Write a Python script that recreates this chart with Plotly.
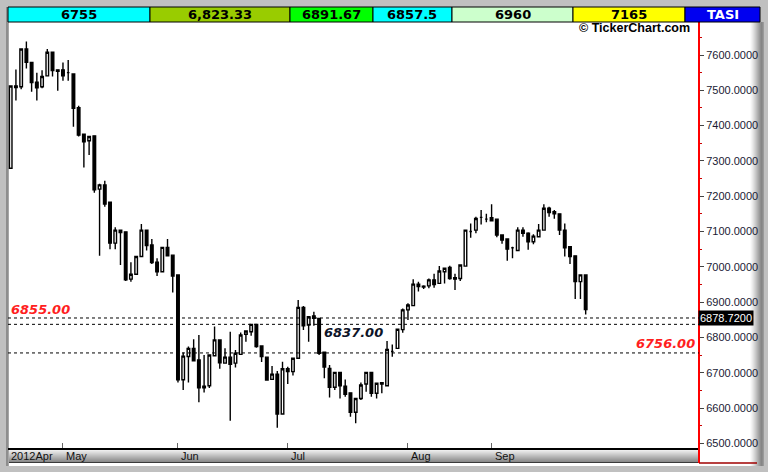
import plotly.graph_objects as go

# ---------------- data ----------------
opens = [7279, 7512, 7510, 7617, 7579, 7523, 7510, 7541, 7608, 7558,
         7558, 7550, 7546, 7451, 7376, 7357, 7371, 7220, 7232, 7183,
         7067, 7104, 7099, 6965, 6979, 7029, 7104, 7062, 7013, 6986,
         7055, 7033, 6977, 6680, 6746, 6769, 6736, 6662, 6663, 6748,
         6793, 6727, 6744, 6727, 6752, 6809, 6816, 6837, 6776, 6744,
         6681, 6696, 6583, 6711, 6703, 6741, 6885, 6835, 6861, 6854,
         6758, 6712, 6659, 6701, 6662, 6643, 6588, 6627, 6668, 6701,
         6642, 6672, 6663, 6760, 6769, 6822, 6878, 6890, 6951, 6945,
         6946, 6963, 6953, 6986, 6998, 6969, 6967, 7002, 7100, 7104,
         7140, 7135, 7139, 7135, 7090, 7079, 7054, 7046, 7104, 7095,
         7071, 7085, 7104, 7166, 7156, 7150, 7104, 7057, 7031, 6958,
         6977]
highs = [7512, 7559, 7619, 7638, 7580, 7550, 7557, 7617, 7609, 7558,
         7579, 7586, 7547, 7456, 7377, 7369, 7372, 7235, 7244, 7184,
         7112, 7105, 7100, 7013, 7030, 7121, 7105, 7079, 7024, 7056,
         7079, 7034, 6978, 6757, 6774, 6795, 6807, 6750, 6751, 6831,
         6794, 6769, 6816, 6764, 6814, 6819, 6838, 6838, 6777, 6745,
         6719, 6705, 6731, 6717, 6742, 6906, 6889, 6860, 6873, 6855,
         6759, 6722, 6702, 6702, 6681, 6644, 6628, 6672, 6702, 6702,
         6671, 6674, 6790, 6780, 6824, 6882, 6897, 6965, 6958, 6948,
         6967, 6980, 7002, 6997, 7003, 6980, 7006, 7105, 7123, 7142,
         7161, 7150, 7177, 7136, 7091, 7080, 7057, 7112, 7112, 7098,
         7092, 7121, 7177, 7170, 7161, 7151, 7123, 7058, 7032, 6978,
         6978]
lows = [7279, 7471, 7503, 7562, 7496, 7471, 7506, 7539, 7539, 7499,
        7527, 7527, 7397, 7369, 7281, 7317, 7210, 7031, 7170, 7050,
        7050, 7005, 6960, 6958, 6978, 7028, 7046, 7008, 6974, 6985,
        7030, 6927, 6672, 6651, 6672, 6733, 6616, 6644, 6657, 6747,
        6711, 6726, 6564, 6715, 6751, 6788, 6805, 6771, 6730, 6677,
        6680, 6544, 6582, 6668, 6692, 6740, 6821, 6788, 6833, 6750,
        6684, 6630, 6651, 6627, 6632, 6575, 6557, 6623, 6646, 6632,
        6627, 6642, 6662, 6745, 6768, 6813, 6849, 6889, 6930, 6937,
        6939, 6941, 6952, 6953, 6963, 6934, 6960, 7001, 7082, 7095,
        7120, 7126, 7129, 7084, 7065, 7017, 7024, 7045, 7085, 7048,
        7064, 7084, 7103, 7142, 7136, 7090, 7029, 7008, 6909, 6909,
        6865]
closes = [7512, 7508, 7617, 7579, 7522, 7507, 7539, 7608, 7556, 7554,
          7541, 7550, 7449, 7373, 7354, 7369, 7218, 7232, 7178, 7067,
          7104, 7097, 6963, 6979, 7029, 7104, 7060, 7012, 6986, 7055,
          7031, 6974, 6680, 6747, 6769, 6734, 6657, 6657, 6750, 6793,
          6728, 6744, 6724, 6755, 6807, 6818, 6837, 6774, 6746, 6679,
          6696, 6583, 6711, 6703, 6741, 6885, 6833, 6859, 6854, 6755,
          6716, 6659, 6701, 6663, 6639, 6588, 6627, 6665, 6701, 6642,
          6670, 6668, 6766, 6760, 6823, 6878, 6892, 6951, 6944, 6943,
          6963, 6950, 6988, 6996, 6967, 6965, 7005, 7104, 7100, 7137,
          7140, 7135, 7130, 7090, 7076, 7050, 7054, 7104, 7095, 7071,
          7087, 7104, 7166, 7154, 7150, 7104, 7054, 7029, 6958, 6977,
          6878.72]
days = list(range(len(opens)))

month_labels = ["2012Apr", "May", "Jun", "Jul", "Aug", "Sep"]
month_pos = [0, 10, 32, 53, 76, 92]

y_ticks = [6500, 6600, 6700, 6800, 6900, 7000, 7100, 7200, 7300, 7400, 7500, 7600]
level_values = [6855, 6837, 6756]
level_labels = ["6855.00", "6837.00", "6756.00"]

header_values = ["6755", "6,823.33", "6891.67", "6857.5", "6960", "7165", "TASI"]
header_colors = ["#00FFFF", "#99CC00", "#00FF00", "#00FFFF", "#CCFFCC", "#FFFF00", "#0000F0"]
header_edges = [8, 150, 290, 373, 452, 573, 685, 760]

last_price = 6878.72
symbol = "TASI"

# ---------------- layout helpers (pixel -> paper) ----------------
L, R, T, B = 8, 699, 22, 448
W, H = R - L, B - T


def px(x):
    return (x - L) / W


def py(y):
    return (B - y) / H


fig = go.Figure()
fig.add_trace(go.Candlestick(
    x=days, open=opens, high=highs, low=lows, close=closes,
    increasing=dict(fillcolor="#FFFFFF", line=dict(color="#000000", width=1.4)),
    decreasing=dict(fillcolor="#000000", line=dict(color="#000000", width=1.4)),
    whiskerwidth=0, showlegend=False, hoverinfo="skip",
))

shapes = []
# inner white panel
shapes.append(dict(type="rect", xref="paper", yref="paper", x0=px(9), x1=px(764),
                   y0=py(466), y1=py(22), fillcolor="#FFFFFF", line=dict(width=0), layer="below"))
# left dark stripe
shapes.append(dict(type="rect", xref="paper", yref="paper", x0=px(6), x1=px(8.5),
                   y0=py(466), y1=py(7), fillcolor="#8E8E8E", line=dict(width=0), layer="below"))
# bottom gradient band (x-axis area)
grad = ["#F4F4F4", "#EDEDED", "#E4E4E4", "#DCDCDC", "#D3D3D3", "#CACACA", "#C1C1C1",
        "#B8B8B8", "#AFAFAF", "#A6A6A6", "#9D9D9D", "#949494", "#8B8B8B", "#828282"]
for i, c in enumerate(grad):
    shapes.append(dict(type="rect", xref="paper", yref="paper", x0=px(9), x1=px(699),
                       y0=py(449 + i + 1), y1=py(449 + i), fillcolor=c, line=dict(width=0), layer="below"))
shapes.append(dict(type="line", xref="paper", yref="paper", x0=px(9), x1=px(699),
                   y0=py(462.5), y1=py(462.5), line=dict(color="#3A3A3A", width=1)))
# right gradient
rgrad = ["#FBFBFB", "#F3F3F3", "#EAEAEA", "#E0E0E0", "#D5D5D5", "#CACACA", "#BEBEBE",
         "#B2B2B2", "#A6A6A6", "#9A9A9A", "#8E8E8E", "#858585", "#8C8C8C", "#9A9A9A"]
for i, c in enumerate(rgrad):
    shapes.append(dict(type="rect", xref="paper", yref="paper", x0=px(750 + i), x1=px(751 + i),
                       y0=py(466), y1=py(22), fillcolor=c, line=dict(width=0), layer="below"))
# red frame around the price scale
shapes.append(dict(type="line", xref="paper", yref="paper", x0=px(699), x1=px(699),
                   y0=py(463), y1=py(22), line=dict(color="#FF0000", width=2)))
shapes.append(dict(type="line", xref="paper", yref="paper", x0=px(699), x1=px(757),
                   y0=py(463), y1=py(463), line=dict(color="#A00000", width=1.5)))
# horizontal dotted level lines
for v in level_values:
    shapes.append(dict(type="line", xref="paper", yref="y", x0=0, x1=1, y0=v, y1=v,
                       line=dict(color="#000000", width=1, dash="dot")))
# header boxes
for i in range(len(header_values)):
    shapes.append(dict(type="rect", xref="paper", yref="paper",
                       x0=px(header_edges[i]), x1=px(header_edges[i + 1]),
                       y0=py(22), y1=py(7), fillcolor=header_colors[i],
                       line=dict(color="#000000", width=1)))

annotations = []
for i, t in enumerate(header_values):
    annotations.append(dict(
        text=t, xref="paper", yref="paper",
        x=(px(header_edges[i]) + px(header_edges[i + 1])) / 2, y=py(14.8),
        xanchor="center", yanchor="middle", showarrow=False,
        font=dict(family="DejaVu Sans", size=13, weight="bold",
                  color="#FFFFFF" if t == symbol else "#000000")))
annotations.append(dict(text="© TickerChart.com", xref="paper", yref="paper",
                        x=px(634), y=py(27.5), xanchor="center", yanchor="middle",
                        showarrow=False,
                        font=dict(family="Liberation Sans", size=12.5, weight="bold", color="#000000")))
# month labels
for p, lab in zip(month_pos, month_labels):
    annotations.append(dict(text=lab, xref="x", yref="paper", x=p, y=py(456),
                            xanchor="left", yanchor="middle", showarrow=False,
                            xshift=-2 if p == 0 else 1,
                            font=dict(family="Liberation Sans", size=11, color="#111111")))
# level labels
annotations.append(dict(text=level_labels[0], xref="paper", yref="y", x=px(9), y=level_values[0],
                        xanchor="left", yanchor="bottom", showarrow=False, yshift=-1,
                        font=dict(family="DejaVu Sans", size=13, weight="bold", style="italic",
                                  color="#FF1E1E")))
annotations.append(dict(text=level_labels[1], xref="paper", yref="y", x=px(322), y=level_values[1],
                        xanchor="left", yanchor="top", showarrow=False, yshift=1,
                        font=dict(family="DejaVu Sans", size=13, weight="bold", style="italic",
                                  color="#0E1428")))
annotations.append(dict(text=level_labels[2], xref="paper", yref="y", x=px(697), y=level_values[2],
                        xanchor="right", yanchor="bottom", showarrow=False, yshift=0,
                        font=dict(family="DejaVu Sans", size=13, weight="bold", style="italic",
                                  color="#FF1E1E")))
# last price box
annotations.append(dict(text=f"{last_price:.4f}", xref="paper", yref="y", x=px(698), y=last_price,
                        xanchor="left", yanchor="top", showarrow=False, bgcolor="#000000",
                        borderpad=1,
                        font=dict(family="Liberation Sans", size=11, color="#FFFFFF")))

fig.update_layout(
    width=768, height=472,
    margin=dict(l=L, r=768 - R, t=T, b=472 - B, pad=0),
    paper_bgcolor="#C0C0C0", plot_bgcolor="rgba(0,0,0,0)",
    shapes=shapes, annotations=annotations, showlegend=False,
    xaxis=dict(range=[-0.517, 131.68], rangeslider=dict(visible=False),
               showgrid=False, zeroline=False, showline=True, linecolor="#000000", linewidth=1.5,
               ticks="inside", tickvals=month_pos[1:], ticklen=5, tickcolor="#666666",
               showticklabels=False, fixedrange=True),
    yaxis=dict(side="right", range=[6486.7, 7693.5], showgrid=False, zeroline=False,
               showline=False, tickvals=y_ticks, ticktext=[f"{v:.4f}" for v in y_ticks],
               ticks="outside", ticklen=4, tickcolor="#444444",
               tickfont=dict(family="Liberation Sans", size=11, color="#1A1A33"),
               minor=dict(ticks="outside", ticklen=2, tickcolor="#CC0000", dtick=50),
               fixedrange=True),
)

fig.write_html("out.html", config={"displayModeBar": False},
               post_script="document.body.style.margin='0';document.body.style.padding='0';")
